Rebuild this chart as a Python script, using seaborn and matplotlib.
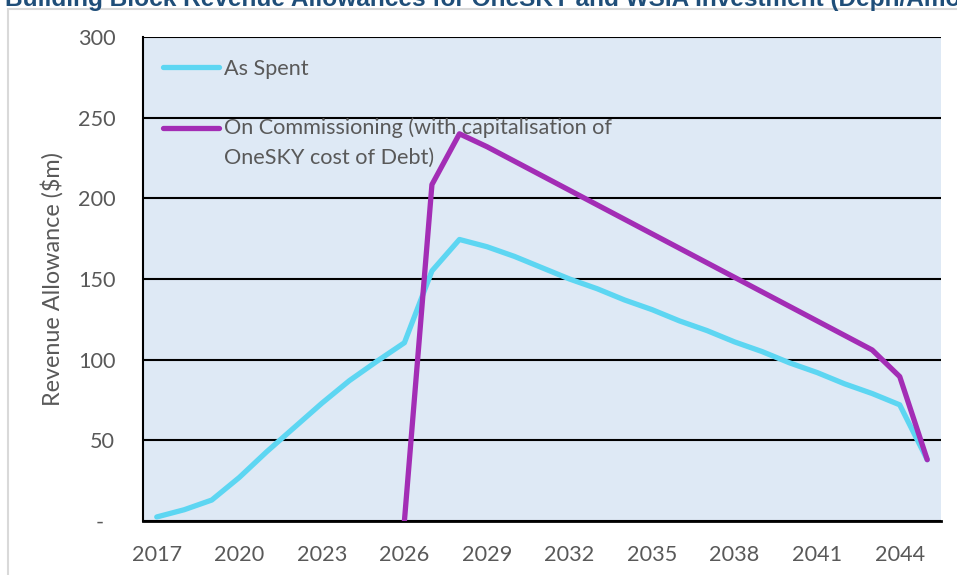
import numpy as np
import pandas as pd
import matplotlib.pyplot as plt
import seaborn as sns
from matplotlib.patches import Rectangle
from matplotlib.legend_handler import HandlerLine2D
from matplotlib.lines import Line2D

years = list(range(2017, 2046))

as_spent = [2.5, 7, 13, 27, 43, 58, 73, 87, 99, 110.5, 155, 174.5, 170,
            164, 157, 150, 144, 137, 131, 124, 118, 111, 105, 98, 92,
            85, 79, 72, 38]

on_commissioning = [np.nan] * 9 + [0, 208.5, 240, 232,
                                   223, 214, 205, 196, 187, 178, 169, 160,
                                   151, 142, 133, 124, 115, 106, 89.5, 38]

series_names = ["As Spent",
                "On Commissioning (with capitalisation of\nOneSKY cost of Debt)"]
series_colors = ["#5DD6F2", "#A32DB5"]

y_ticks = [0, 50, 100, 150, 200, 250, 300]
y_labels = ["-  ", "50", "100", "150", "200", "250", "300"]
x_ticks = list(range(2017, 2046, 3))

df = pd.DataFrame({
    "Year": years * 2,
    "Value": as_spent + on_commissioning,
    "Series": [series_names[0]] * len(years) + [series_names[1]] * len(years),
})
df = df.dropna()

sns.set_style("white")
plt.rcParams["font.family"] = ["Lato", "DejaVu Sans"]

grey = "#595959"
fs = 15.6
fig = plt.figure(figsize=(9.57, 5.75), dpi=100)
ax = fig.add_axes([143 / 957, 1 - 521 / 575, 798 / 957, 484 / 575])
ax.set_facecolor("#DEE9F5")

sns.lineplot(data=df, x="Year", y="Value", hue="Series",
             palette=dict(zip(series_names, series_colors)),
             linewidth=3.8, legend=False, ax=ax, zorder=3,
             solid_capstyle="round", solid_joinstyle="round")

ax.set_xlim(2016.5, 2045.5)
ax.set_ylim(0, 300)

# gridlines
ax.set_yticks(y_ticks)
ax.set_yticklabels(y_labels)
ax.grid(axis="y", color="black", linewidth=1.5)
ax.set_axisbelow(True)

ax.set_xticks(x_ticks)
ax.set_xticklabels([str(y) for y in x_ticks])
ax.set_xticks(np.arange(2016.5, 2046, 1), minor=True)
ax.tick_params(axis="x", which="major", length=0, pad=17, labelsize=fs, labelcolor=grey)
ax.tick_params(axis="x", which="minor", direction="in", length=6, width=1.3, color="black")
ax.tick_params(axis="y", length=0, pad=20, labelsize=fs, labelcolor=grey)

for side in ["top", "right"]:
    ax.spines[side].set_visible(False)
ax.spines["left"].set_color("black")
ax.spines["left"].set_linewidth(1.5)
ax.spines["bottom"].set_color("black")
ax.spines["bottom"].set_linewidth(2)

ax.set_xlabel("")
ax.set_ylabel("Revenue Allowance ($m)", fontsize=16.8, color=grey, labelpad=10)


class HandlerTop(HandlerLine2D):
    def __init__(self, shift=0.0, **kw):
        super().__init__(**kw)
        self.shift = shift

    def create_artists(self, legend, orig_handle, xdescent, ydescent, width,
                       height, fontsize, trans):
        arts = super().create_artists(legend, orig_handle, xdescent, ydescent,
                                      width, height, fontsize, trans)
        for a in arts:
            a.set_ydata(np.asarray(a.get_ydata()) + self.shift * fontsize)
        return arts


handles = [Line2D([], [], color=c, linewidth=3.8, solid_capstyle="round")
           for c in series_colors]
leg = ax.legend(handles, series_names, loc="upper left",
                bbox_to_anchor=(0.025, 0.955), frameon=False,
                fontsize=fs, labelcolor=grey, handlelength=2.6,
                handletextpad=0.2, labelspacing=1.8, borderpad=0,
                borderaxespad=0,
                handler_map={handles[1]: HandlerTop(shift=0.7)})
for t in leg.get_texts():
    t.set_linespacing(1.6)

fig.add_artist(Rectangle((8 / 957, -0.1), 1.2, 1 - 9 / 575 + 0.1,
                         transform=fig.transFigure, fill=False,
                         edgecolor="#D9D9D9", linewidth=1.5))
fig.text(5 / 957, 1 - 6 / 575,
         "Building Block Revenue Allowances for OneSKY and WSIA Investment (Depn/Amortisation)",
         fontsize=17.6, fontweight="bold", color="#1F4E79", va="baseline",
         ha="left", family=["Liberation Sans", "DejaVu Sans"])

plt.savefig("out.png", dpi=100)
